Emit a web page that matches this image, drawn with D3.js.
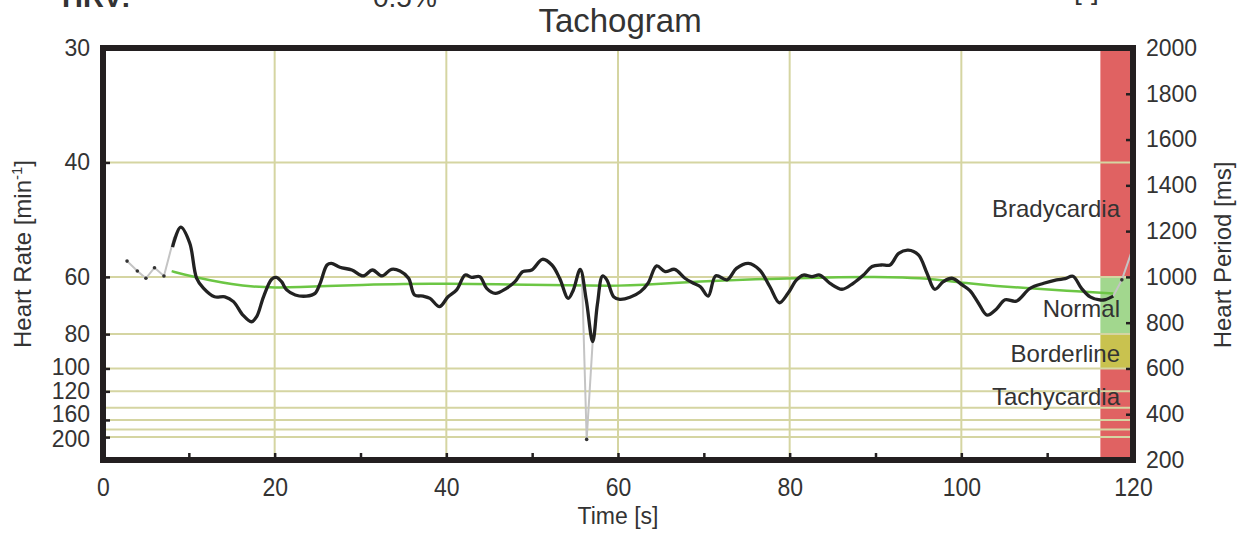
<!DOCTYPE html>
<html>
<head>
<meta charset="utf-8">
<script src="https://cdn.jsdelivr.net/npm/d3@7"></script>
<style>
  body { margin: 0; background: #fff; }
  text { font-family: "Liberation Sans", Arial, sans-serif; fill: #333; }
</style>
</head>
<body>
<svg id="chart" width="1250" height="533"></svg>
<script>
// Filtered tachogram: time [s] and heart period [ms]
const beatTime = [8.1, 9.05, 10.1, 10.9, 11.7, 13.0, 14.2, 15.2, 16.3, 17.3, 17.9, 18.7, 19.65, 20.2, 20.8, 21.4, 22.4, 23.7, 24.7, 25.3,
  26.1, 26.6, 27.6, 29.0, 30.3, 31.4, 32.5, 33.6, 34.6, 35.6, 36.3, 37.3, 38.1, 39.2, 40.2, 41.2, 42.2, 42.95, 43.9, 44.7,
  45.7, 47.0, 48.0, 48.9, 49.95, 51.2, 52.3, 53.2, 54.2, 54.8, 55.6, 56.3, 57.05, 57.6, 58.2, 58.7, 59.5, 60.2, 61.4, 62.6,
  63.5, 64.5, 65.5, 66.6, 67.8, 68.8, 69.6, 70.5, 71.4, 72.7, 73.8, 75.2, 76.5, 77.7, 78.8, 79.8, 80.8, 81.6, 82.6, 83.5,
  84.7, 86.1, 87.4, 88.6, 89.6, 90.7, 91.7, 92.7, 93.8, 95.0, 96.0, 96.9, 97.9, 98.9, 100.1, 101.0, 102.0, 103.0, 104.1, 105.1,
  106.4, 108.0, 109.6, 111.1, 112.1, 113.0, 114.0, 115.0, 116.2, 116.8, 117.7];
const beatPeriod = [1130, 1217, 1148, 995, 951, 913, 913, 892, 833, 804, 826, 913, 990, 998, 979, 943, 921, 916, 928, 972,
  1052, 1059, 1042, 1030, 1004, 1030, 1004, 1033, 1026, 994, 921, 916, 906, 870, 913, 943, 1008, 998, 1001, 950,
  928, 950, 979, 1023, 1030, 1077, 1052, 994, 906, 943, 1033, 900, 717, 880, 1004, 987, 913, 902, 911, 935,
  972, 1048, 1023, 1033, 994, 972, 957, 916, 1005, 987, 1037, 1059, 1030, 957, 887, 928, 987, 1008, 1001, 1008,
  972, 946, 972, 1008, 1045, 1052, 1052, 1103, 1117, 1096, 1016, 946, 979, 994, 965, 940, 885, 833, 860, 900,
  894, 950, 972, 987, 992, 1003, 950, 913, 899, 901, 916];

// Slow trend of the heart period
const trendTime = [8.0, 10, 12.5, 15, 17.5, 20, 23, 26, 30, 35, 40, 46, 52, 57, 60, 63, 66, 72, 80, 86, 90, 93, 97, 100.6, 104, 108, 112, 117.7];
const trendPeriod = [1025, 1005, 985, 968, 957, 953, 955, 960, 965, 970, 970, 968, 965, 962, 961, 965, 972, 985, 994, 999, 1000, 998, 990, 972, 960, 950, 940, 927];

// Raw beats rejected as artefacts
const artefactStartTime = [2.8, 4.0, 5.0, 6.0, 7.1, 8.3];
const artefactStartPeriod = [1069, 1026, 994, 1040, 1004, 1175];
const artefactSpikeTime = [55.8, 56.35, 57.05];
const artefactSpikePeriod = [1010, 290, 717];
const artefactEndTime = [117.7, 118.7, 120.3];
const artefactEndPeriod = [916, 987, 1160];
const artefactDotTime = [2.8, 4.0, 5.0, 6.0, 7.1, 56.35, 118.7];
const artefactDotPeriod = [1069, 1026, 994, 1040, 1004, 290, 987];

// Axis ticks
const rateTicks = [30, 40, 60, 80, 100, 120, 160, 200];
const rateGrid = [40, 60, 80, 100, 120, 140, 160, 180, 200];
const periodTicks = [200, 400, 600, 800, 1000, 1200, 1400, 1600, 1800, 2000];
const timeTicks = [0, 10, 20, 30, 40, 50, 60, 70, 80, 90, 100, 110, 120];
const timeGrid = [20, 40, 60, 80, 100];

// Heart-period zones [ms]
const zoneNames = ["Bradycardia", "Normal", "Borderline", "Tachycardia"];
const zoneLow = [1000, 750, 600, 200];
const zoneHigh = [2000, 1000, 750, 600];
const zoneColors = ["#e06262", "#a2d78e", "#c9c24f", "#e06262"];
const zoneLabelPeriod = [1262, 825, 628, 440];
const zoneBandStart = 116.2;

const svg = d3.select("#chart");
const pLeft = 103, pRight = 1133, pTop = 48, pBottom = 460;

const x = d3.scaleLinear().domain([0, 120]).range([pLeft, pRight]);
const y = d3.scaleLinear().domain([200, 2000]).range([pBottom, pTop]);
const rateToPeriod = hr => 60000 / hr;

svg.append("defs").append("clipPath").attr("id", "plot")
  .append("rect").attr("x", pLeft).attr("y", pTop).attr("width", pRight - pLeft).attr("height", pBottom - pTop);

// zone band on the right edge
svg.append("g").selectAll("rect").data(zoneNames).join("rect")
  .attr("x", x(zoneBandStart)).attr("width", x(120) - x(zoneBandStart))
  .attr("y", (d, i) => y(zoneHigh[i]))
  .attr("height", (d, i) => y(zoneLow[i]) - y(zoneHigh[i]))
  .attr("fill", (d, i) => zoneColors[i]);

// grid
const grid = svg.append("g").attr("stroke", "#d5d5a2").attr("stroke-width", 2);
grid.selectAll("line.h").data(rateGrid).join("line").attr("class", "h")
  .attr("x1", pLeft).attr("x2", pRight)
  .attr("y1", d => y(rateToPeriod(d))).attr("y2", d => y(rateToPeriod(d)));
grid.selectAll("line.v").data(timeGrid).join("line").attr("class", "v")
  .attr("x1", d => x(d)).attr("x2", d => x(d))
  .attr("y1", pTop).attr("y2", pBottom);

const plot = svg.append("g").attr("clip-path", "url(#plot)");
const zip = (ts, ps) => ts.map((t, i) => [t, ps[i]]);

const curveLine = d3.line().x(d => x(d[0])).y(d => y(d[1])).curve(d3.curveCatmullRom.alpha(0.5));
const straight = d3.line().x(d => x(d[0])).y(d => y(d[1]));

// trend
plot.append("path").datum(zip(trendTime, trendPeriod))
  .attr("d", d3.line().x(d => x(d[0])).y(d => y(d[1])).curve(d3.curveBasis))
  .attr("fill", "none").attr("stroke", "#6cc644").attr("stroke-width", 2.5);

// artefacts
[[artefactStartTime, artefactStartPeriod], [artefactSpikeTime, artefactSpikePeriod], [artefactEndTime, artefactEndPeriod]]
  .forEach(([ts, ps]) => {
    plot.append("path").datum(zip(ts, ps)).attr("d", straight)
      .attr("fill", "none").attr("stroke", "#c4c4c4").attr("stroke-width", 2);
  });

// filtered tachogram
plot.append("path").datum(zip(beatTime, beatPeriod)).attr("d", curveLine)
  .attr("fill", "none").attr("stroke", "#222").attr("stroke-width", 3.3)
  .attr("stroke-linejoin", "round");

plot.append("g").selectAll("circle").data(zip(artefactDotTime, artefactDotPeriod)).join("circle")
  .attr("cx", d => x(d[0])).attr("cy", d => y(d[1])).attr("r", 1.8).attr("fill", "#333");

// zone labels
svg.append("g").selectAll("text").data(zoneNames).join("text")
  .attr("x", 1120).attr("y", (d, i) => y(zoneLabelPeriod[i]))
  .attr("text-anchor", "end").attr("font-size", 24).text(d => d);

// frame
svg.append("rect").attr("x", pLeft).attr("y", pTop).attr("width", pRight - pLeft).attr("height", pBottom - pTop)
  .attr("fill", "none").attr("stroke", "#231f20").attr("stroke-width", 6);

function styleAxis(g) {
  g.select(".domain").remove();
  g.selectAll(".tick line").attr("stroke", "#231f20").attr("stroke-width", 2.5);
  g.selectAll(".tick text").attr("font-size", 23).attr("fill", "#333");
}

// left axis: heart rate (labels of the crowded high rates are spread slightly)
const rateLabelShift = { 100: -1, 160: -5.5, 200: 2 };
svg.append("g").attr("transform", `translate(${pLeft},0)`)
  .call(d3.axisLeft(y).tickValues(rateTicks.map(rateToPeriod))
    .tickFormat(p => Math.round(60000 / p)).tickSize(-7).tickPadding(13))
  .call(styleAxis)
  .call(g => g.selectAll(".tick line").filter(p => p >= 1999).remove())
  .call(g => g.selectAll(".tick text").attr("y", p => rateLabelShift[Math.round(60000 / p)] || 0));

// right axis: heart period
svg.append("g").attr("transform", `translate(${pRight},0)`)
  .call(d3.axisRight(y).tickValues(periodTicks).tickFormat(d3.format("d")).tickSize(-7).tickPadding(13))
  .call(styleAxis)
  .call(g => g.selectAll(".tick line").filter(p => p <= 200 || p >= 2000).remove());

// bottom axis: time, with slightly tall condensed labels
svg.append("g").attr("transform", `translate(0,${pBottom})`)
  .call(d3.axisBottom(x).tickValues(timeTicks).tickFormat(d => d % 20 === 0 ? d : "")
    .tickSize(-7).tickPadding(0))
  .call(styleAxis)
  .call(g => g.selectAll(".tick line").filter(d => d === 0 || d === 120).remove())
  .call(g => g.selectAll(".tick text").attr("y", 0).attr("dy", null)
    .attr("transform", "translate(0,36) scale(1,1.15)"));

// titles
svg.append("text").attr("x", 620).attr("y", 32).attr("text-anchor", "middle")
  .attr("font-size", 33).text("Tachogram");
svg.append("text").attr("x", 618).attr("y", 524).attr("text-anchor", "middle")
  .attr("font-size", 23).text("Time [s]");

const hrLabel = svg.append("text").attr("transform", "translate(31,254) rotate(-90)")
  .attr("text-anchor", "middle").attr("font-size", 24);
hrLabel.append("tspan").text("Heart Rate [min");
hrLabel.append("tspan").attr("dy", -9).attr("font-size", 15).text("-1");
hrLabel.append("tspan").attr("dy", 9).text("]");

svg.append("text").attr("transform", "translate(1231,255) rotate(-90)")
  .attr("text-anchor", "middle").attr("font-size", 24).text("Heart Period [ms]");

// header row
svg.append("text").attr("x", 62).attr("y", 7).attr("font-size", 29).attr("font-weight", "bold").text("HRV:");
svg.append("text").attr("x", 373).attr("y", 7).attr("font-size", 28).text("0.5%");
svg.append("text").attr("x", 1074).attr("y", -1).attr("font-size", 28).text("[-]");
</script>
</body>
</html>
